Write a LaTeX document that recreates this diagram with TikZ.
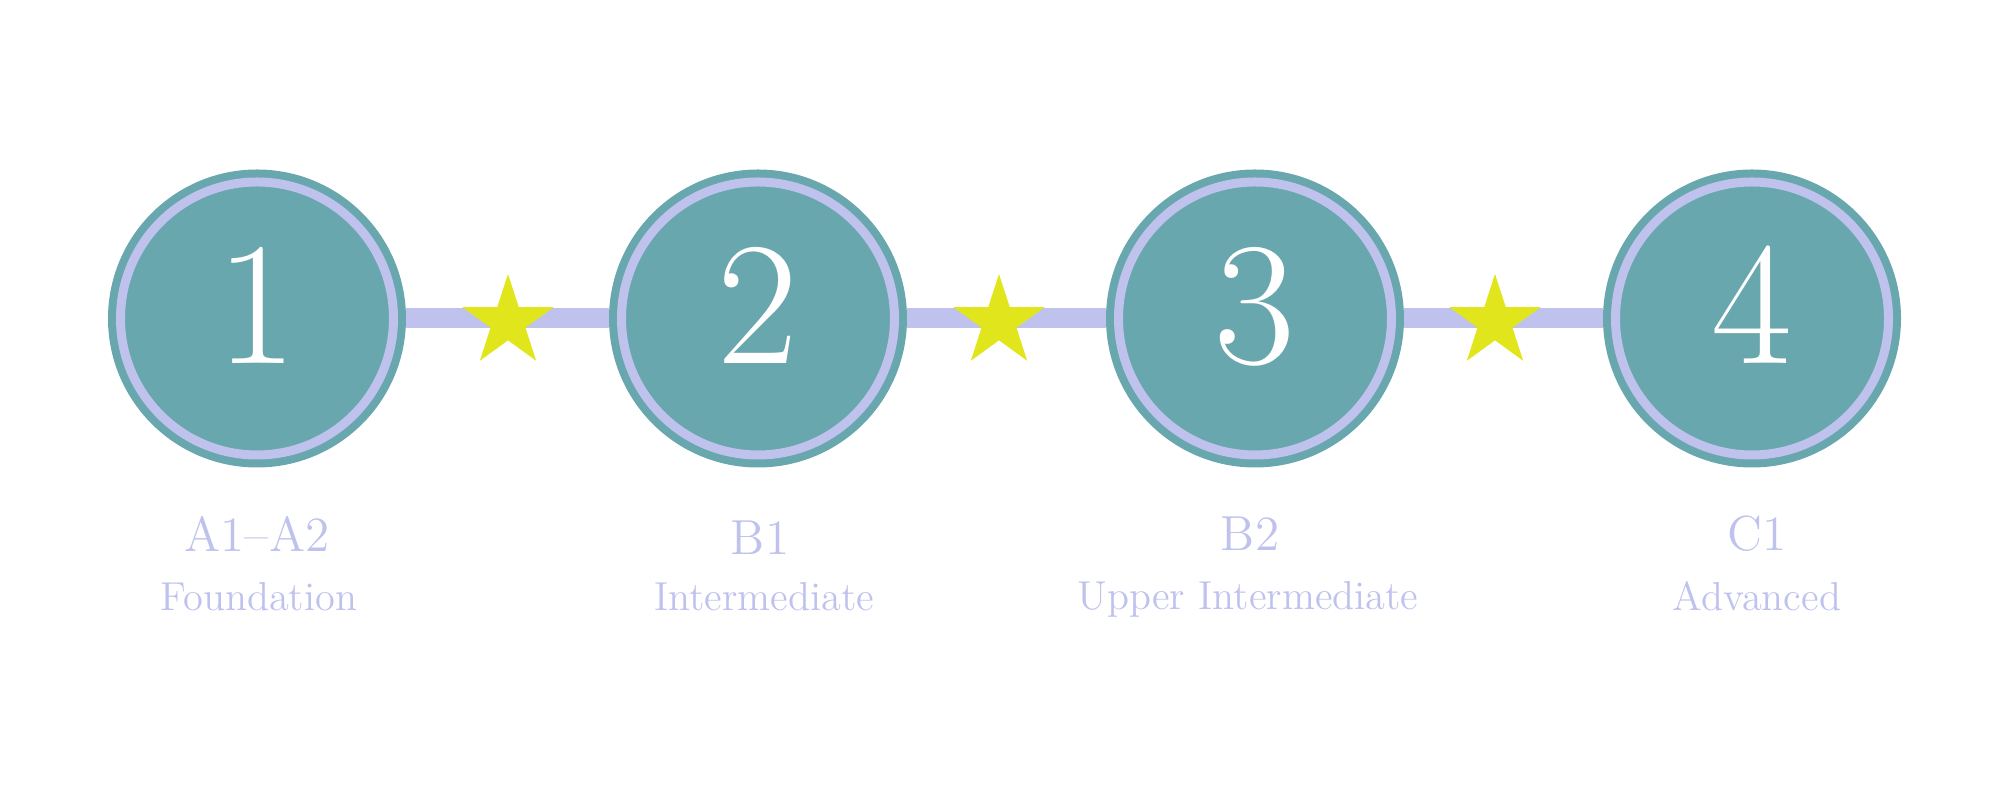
\documentclass[tikz,border=0pt]{standalone}
\usepackage{tikz}
\usetikzlibrary{shapes.geometric}
\usepackage{xcolor}
\definecolor{tealfill}{HTML}{69A7AE}
\definecolor{lavender}{HTML}{BEC2EC}
\definecolor{startint}{HTML}{E0E61B}
\newcommand{\numfont}{\fontsize{50}{60}\selectfont}

\begin{document}
\begin{tikzpicture}[
    level/.style={circle, fill=tealfill, draw=lavender, line width=0.09cm,
      minimum size=2.73cm, inner sep=0pt, outer sep=0.125cm,
      preaction={draw=tealfill, line width=0.25cm}},
    num/.style={anchor=base, text=white, font=\numfont},
    code/.style={anchor=base, text=lavender, font=\fontsize{14}{17}\selectfont},
    title/.style={anchor=base, text=lavender, font=\fontsize{11.5}{14}\selectfont},
    bar/.style={draw=lavender, line width=0.2cm},
    goldstar/.style={star, star points=5, star point ratio=2.618,
      minimum size=0.96cm, inner sep=0pt, fill=startint}]
      \useasboundingbox (0,0) rectangle (20,8);

      % the four steps
      \node [level, name=c1] at (2.57,4.815) {};
      \node [level, name=c2] at (7.58,4.815) {};
      \node [level, name=c3] at (12.55,4.815) {};
      \node [level, name=c4] at (17.52,4.815) {};

      \node [num, name=n1] at (2.57,4.36) {1};
      \node [num, name=n2] at (7.58,4.36) {2};
      \node [num, name=n3] at (12.55,4.36) {3};
      \node [num, name=n4] at (17.52,4.36) {4};

      % links
      \draw [bar] (c1) -- (c2);
      \draw [bar] (c2) -- (c3);
      \draw [bar] (c3) -- (c4);

      \node [goldstar, name=s1] at (5.08,4.78) {};
      \node [goldstar, name=s2] at (9.99,4.78) {};
      \node [goldstar, name=s3] at (14.95,4.78) {};

      % labels
      \node [code, name=k1] at (2.57,2.48) {A1--A2};
      \node [code, name=k2] at (7.6,2.45) {B1};
      \node [code, name=k3] at (12.5,2.49) {B2};
      \node [code, name=k4] at (17.57,2.49) {C1};

      \node [title, name=t1] at (2.59,1.89) {Foundation};
      \node [title, name=t2] at (7.64,1.89) {Intermediate};
      \node [title, name=t3] at (12.48,1.9) {Upper Intermediate};
      \node [title, name=t4] at (17.57,1.89) {Advanced};

    \end{tikzpicture}
\end{document}
